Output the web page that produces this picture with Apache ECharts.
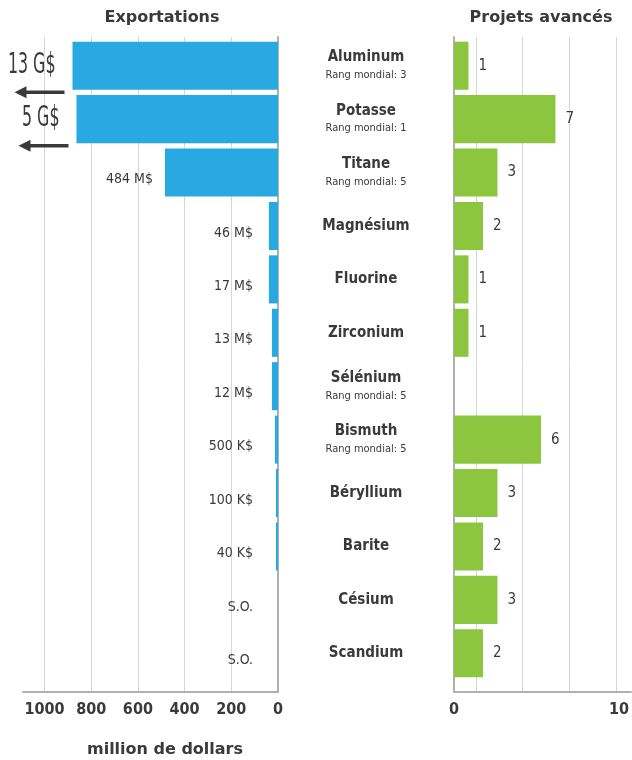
<!DOCTYPE html>
<html>
<head>
<meta charset="utf-8">
<script src="https://cdn.jsdelivr.net/npm/echarts@6/dist/echarts.min.js"></script>
<style>
html,body{margin:0;padding:0;background:#fff;}
#chart{width:632px;height:760px;}
</style>
</head>
<body>
<div id="chart"></div>
<script>
// ---- data ----
const categories = ['Aluminum','Potasse','Titane','Magnésium','Fluorine','Zirconium','Sélénium','Bismuth','Béryllium','Barite','Césium','Scandium'];
const worldRank = [3, 1, 5, null, null, null, 5, 5, null, null, null, null];
// bar lengths as drawn (million $, off-scale values drawn truncated)
const exportBarLength = [880, 863, 484, 39, 39, 26, 26, 13, 9, 9, 0, 0];
const exportLabels = ['13 G$','5 G$','484 M$','46 M$','17 M$','13 M$','12 M$','500 K$','100 K$','40 K$','S.O.','S.O.'];
const exportOffScale = [true, true, false, false, false, false, false, false, false, false, false, false];
const advancedProjects = [1, 7, 3, 2, 1, 1, 0, 6, 3, 2, 3, 2];
const exportTicks = [0, 200, 400, 600, 800, 1000];
const projectTicks = [0, 10];

// ---- style ----
const NARROW = '"Liberation Sans Narrow","DejaVu Sans Condensed","Arial Narrow",sans-serif';
const WIDE = '"DejaVu Sans",sans-serif';
const TXT = '#3a3a3a';
const BLUE = '#29a9e1';
const GREEN = '#8cc63f';
const AXIS = '#b0b0b0';
const GRID = '#d6d6d6';

const chart = echarts.init(document.getElementById('chart'), null, {renderer: 'canvas'});

const option = {
  animation: false,
  backgroundColor: '#fff',
  title: [
    {text: 'Exportations', left: 157, top: 5, textAlign: 'center',
     textStyle: {fontFamily: WIDE, fontWeight: 'bold', fontSize: 16, color: TXT}},
    {text: 'Projets avancés', left: 536, top: 5, textAlign: 'center',
     textStyle: {fontFamily: WIDE, fontWeight: 'bold', fontSize: 16, color: TXT}},
    {text: 'million de dollars', left: 160, top: 737, textAlign: 'center',
     textStyle: {fontFamily: WIDE, fontWeight: 'bold', fontSize: 16, color: TXT}}
  ],
  grid: [
    {left: 23, right: 354, top: 37, bottom: 68},   // 0 left axes
    {left: 23, right: 354, top: 39, bottom: 80},   // 1 left data
    {left: 454, right: 0, top: 37, bottom: 68},    // 2 right axes
    {left: 476, right: 0, top: 37, bottom: 68},    // 3 right grid lines
    {left: 454, right: 0, top: 39, bottom: 80}     // 4 right data
  ],
  xAxis: [
    {gridIndex: 0, type: 'value', inverse: true, min: 0, max: 1092, interval: 200,
     axisLine: {show: true, lineStyle: {color: AXIS, width: 2}},
     axisTick: {show: false},
     axisLabel: {margin: 10, showMaxLabel: false, fontFamily: NARROW, fontWeight: 'bold', fontSize: 16, color: TXT,
       formatter: v => exportTicks.indexOf(v) >= 0 ? String(v) : ''},
     splitLine: {show: true, showMaxLine: false, lineStyle: {color: GRID, width: 1}}},
    {gridIndex: 1, type: 'value', inverse: true, min: 0, max: 1092, show: false},
    {gridIndex: 2, type: 'value', min: 0, max: 10.72, interval: 10,
     axisLine: {show: true, onZero: false, lineStyle: {color: AXIS, width: 2}},
     axisTick: {show: false},
     axisLabel: {margin: 10, showMaxLabel: false, fontFamily: NARROW, fontWeight: 'bold', fontSize: 16, color: TXT,
       formatter: v => projectTicks.indexOf(v) >= 0 ? String(v) : ''},
     splitLine: {show: false}},
    {gridIndex: 3, type: 'value', min: 0, max: 156, interval: 46.6,
     axisLine: {show: false}, axisTick: {show: false}, axisLabel: {show: false},
     splitLine: {show: true, showMinLine: true, showMaxLine: false, lineStyle: {color: GRID, width: 1}}},
    {gridIndex: 4, type: 'value', min: 0, max: 12.28, show: false}
  ],
  yAxis: [
    {gridIndex: 0, type: 'value', min: 0, max: 1, position: 'right',
     axisLine: {show: true, onZero: false, lineStyle: {color: AXIS, width: 2}},
     axisTick: {show: false}, axisLabel: {show: false}, splitLine: {show: false}},
    {gridIndex: 1, type: 'category', inverse: true, data: categories, show: false},
    {gridIndex: 2, type: 'value', min: 0, max: 1, position: 'left',
     axisLine: {show: true, onZero: false, lineStyle: {color: AXIS, width: 2}},
     axisTick: {show: false}, axisLabel: {show: false}, splitLine: {show: false}},
    {gridIndex: 3, type: 'value', min: 0, max: 1, show: false},
    {gridIndex: 4, type: 'category', inverse: true, data: categories,
     axisLine: {show: false}, axisTick: {show: false}, splitLine: {show: false},
     axisLabel: {
       margin: 88, align: 'center', color: TXT,
       formatter: (v, i) => worldRank[i] != null
         ? '{n|' + v + '}\n{r|Rang mondial: ' + worldRank[i] + '}'
         : '{n|' + v + '}',
       rich: {
         n: {fontFamily: NARROW, fontWeight: 'bold', fontSize: 15, lineHeight: 19, color: TXT, align: 'center'},
         r: {fontFamily: NARROW, fontSize: 11, lineHeight: 17, color: TXT, align: 'center'}
       }
     }}
  ],
  series: [
    {
      type: 'bar', xAxisIndex: 1, yAxisIndex: 1, data: exportBarLength,
      barCategoryGap: '10%', silent: true,
      itemStyle: {color: BLUE},
      label: {
        show: true, position: 'left', distance: 12,
        fontFamily: NARROW, fontSize: 14, color: TXT,
        formatter: p => exportOffScale[p.dataIndex] ? '' : exportLabels[p.dataIndex]
      },
      labelLayout: function (p) {
        const zeroX = p.rect.x + p.rect.width;
        return {x: Math.min(p.rect.x - 12, zeroX - 25), align: 'right'};
      }
    },
    {
      type: 'bar', xAxisIndex: 4, yAxisIndex: 4, data: advancedProjects,
      barCategoryGap: '10%', silent: true,
      itemStyle: {color: GREEN},
      label: {
        show: true, position: 'right', distance: 10,
        fontFamily: NARROW, fontSize: 15, color: TXT,
        formatter: p => p.value ? String(p.value) : ''
      }
    }
  ]
};
chart.setOption(option);

// big labels + arrows for off-scale exports, placed from the data through the axes
const extras = [];
exportOffScale.forEach((off, i) => {
  if (!off) return;
  const pt = chart.convertToPixel({seriesIndex: 0}, [exportBarLength[i], i]);
  extras.push({type: 'text', silent: true, z: 10,
    x: pt[0] - 17, y: pt[1], scaleX: 0.63, scaleY: 1,
    style: {text: exportLabels[i], x: 0, y: 0, align: 'right', verticalAlign: 'middle',
      font: '28px ' + NARROW, fill: TXT}});
  const end = pt[0] - 8;
  const tip = end - 50;
  const y = pt[1] + 26.5;
  extras.push({type: 'line', silent: true, z: 10,
    shape: {x1: tip + 8, y1: y, x2: end, y2: y},
    style: {stroke: '#3a3a3a', lineWidth: 3.5}});
  extras.push({type: 'polygon', silent: true, z: 10,
    shape: {points: [[tip, y], [tip + 12, y - 6], [tip + 12, y + 6]]},
    style: {fill: '#3a3a3a'}});
});
chart.setOption({graphic: extras});
</script>
</body>
</html>
